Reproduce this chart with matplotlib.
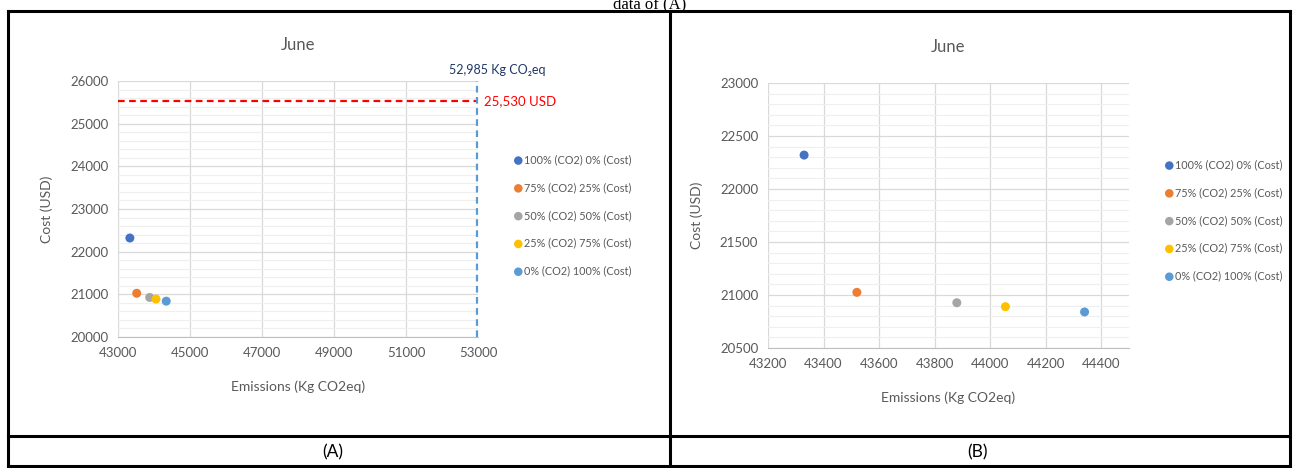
import matplotlib
matplotlib.use("Agg")
import matplotlib.pyplot as plt
from matplotlib.ticker import MultipleLocator

W, H = 1295, 468
plt.rcParams["font.family"] = ["Lato", "DejaVu Sans"]

# data
series = ["100% (CO2) 0% (Cost)", "75% (CO2) 25% (Cost)", "50% (CO2) 50% (Cost)",
          "25% (CO2) 75% (Cost)", "0% (CO2) 100% (Cost)"]
emissions = [43330, 43520, 43880, 44055, 44340]
cost = [22320, 21025, 20927, 20890, 20840]
colors = ["#4472C4", "#ED7D31", "#A5A5A5", "#FFC000", "#5B9BD5"]
co2_limit = 52985
cost_limit = 25530

TXT, GRID, MINOR = "#595959", "#D9D9D9", "#EFEFEF"


def px_axes(fig, x0, y0, x1, y1):
    # pixel box (top-left origin) -> axes
    return fig.add_axes([x0 / W, 1 - y1 / H, (x1 - x0) / W, (y1 - y0) / H])


def style(ax, xlim, ylim, xmaj, ymaj, ymin):
    ax.set_xlim(*xlim); ax.set_ylim(*ylim)
    ax.set_xticks(range(xlim[0], xlim[1] + 1, xmaj))
    ax.yaxis.set_major_locator(MultipleLocator(ymaj))
    ax.yaxis.set_minor_locator(MultipleLocator(ymin))
    ax.grid(which="major", color=GRID, lw=0.9)
    ax.grid(which="minor", axis="y", color=MINOR, lw=0.8)
    ax.set_axisbelow(True)
    for s in ("top", "right", "left"):
        ax.spines[s].set_visible(False)
    ax.spines["bottom"].set_color("#BFBFBF")
    ax.tick_params(which="both", length=0, labelsize=9.5, colors=TXT, pad=7)
    ax.set_title("June", fontsize=12, color=TXT, pad=22)
    ax.set_xlabel("Emissions (Kg CO2eq)", fontsize=10, color=TXT, labelpad=16)
    ax.set_ylabel("Cost (USD)", fontsize=10, color=TXT, labelpad=12)


def points(ax):
    for e, c, col, lab in zip(emissions, cost, colors, series):
        ax.scatter(e, c, s=42, color=col, label=lab, zorder=3, edgecolors="none")


def legend(ax, x, y):
    ax.legend(loc="upper left", bbox_to_anchor=(x / W, 1 - y / H), bbox_transform=fig.transFigure,
              frameon=False, fontsize=7.8, labelcolor=TXT, handletextpad=0.05, handlelength=0.9,
              labelspacing=1.55, borderpad=0, markerscale=0.95)


fig = plt.figure(figsize=(W / 100, H / 100), dpi=100)
fig.patch.set_facecolor("white")

# panel A
axA = px_axes(fig, 118, 81, 478, 337)
style(axA, (43000, 53000), (20000, 26000), 2000, 1000, 200)
points(axA)
axA.plot([43000, co2_limit], [cost_limit, cost_limit], color="#FF0000", ls=(0, (3, 2)), lw=1.6, zorder=2)
axA.plot([co2_limit, co2_limit], [20000, 26000], color="#5B9BD5", ls=(0, (3, 2)), lw=1.6, zorder=2, clip_on=False)
axA.annotate("52,985 Kg CO₂eq", xy=(co2_limit, 26000), xytext=(20, 11), textcoords="offset pixels",
             ha="center", va="center", fontsize=9, color="#1F3864", annotation_clip=False)
axA.annotate("25,530 USD", xy=(co2_limit, cost_limit), xytext=(7, 0), textcoords="offset pixels",
             ha="left", va="center", fontsize=9.5, color="#FF0000", annotation_clip=False)
legend(axA, 508, 149)

# panel B
axB = px_axes(fig, 768, 83, 1129, 348)
style(axB, (43200, 44500), (20500, 23000), 200, 500, 100)
axB.set_xticks(range(43200, 44401, 200))
points(axB)
legend(axB, 1159, 154)

# table frame around the two panels
frame = fig.add_axes([0, 0, 1, 1]); frame.axis("off")
frame.set_xlim(0, W); frame.set_ylim(H, 0)
for xs, ys in (([8, 1290], [11, 11]), ([8, 1290], [436, 436]), ([8, 1290], [466, 466]),
               ([8, 8], [11, 466]), ([670, 670], [11, 466]), ([1290, 1290], [11, 466])):
    frame.plot(xs, ys, color="black", lw=2.2, solid_capstyle="projecting")
frame.text(333, 452, "(A)", fontsize=12.5, ha="center", va="center", color="black")
frame.text(978, 452, "(B)", fontsize=12.5, ha="center", va="center", color="black")
frame.text(650, 8, "data of (A)", fontsize=12, ha="center", va="baseline", color="black",
           family="Liberation Serif")

fig.savefig("out.png", dpi=100, facecolor="white")
